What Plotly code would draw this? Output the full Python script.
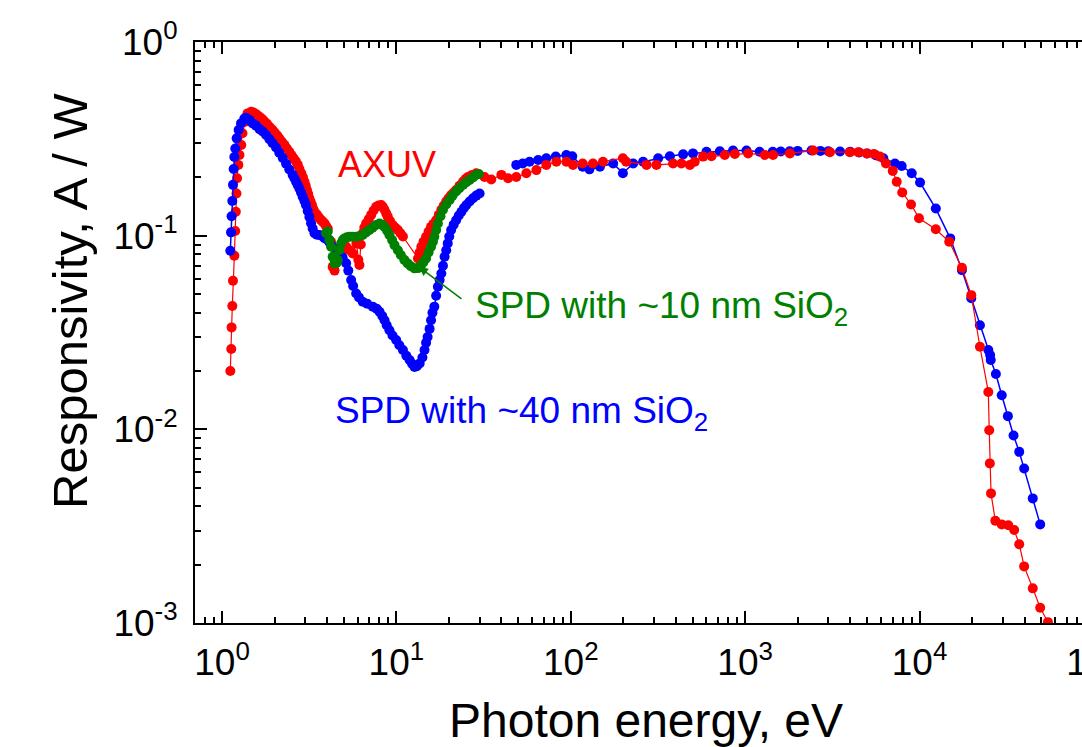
import math
import plotly.graph_objects as go

# ---------------- data ----------------
# AXUV photodiode
axuv_E = [1.116, 1.13, 1.135, 1.146, 1.156, 1.177, 1.19, 1.2, 1.21, 1.22, 1.24, 1.26, 1.29, 1.31, 1.36, 1.40, 1.47,
          1.52, 1.58, 1.64, 1.70, 1.75, 1.81, 1.87, 1.94, 2.0, 2.07, 2.13, 2.20, 2.28, 2.35, 2.43, 2.50, 2.57, 2.65,
          2.72, 2.78, 2.85, 2.91, 2.97, 3.02, 3.07, 3.12, 3.17, 3.22, 3.28, 3.33, 3.39, 3.45, 3.5, 3.56, 3.62, 3.68,
          3.75, 3.81, 3.87, 3.95, 4.04, 4.13, 4.22, 4.31, 4.42, 4.51, 4.71, 4.92, 5.15, 5.38, 5.62, 5.9, 6.05, 6.14,
          6.25, 6.41, 6.55, 6.71, 6.95, 7.17, 7.4, 7.66, 7.9, 8.18, 8.35, 8.55, 8.75, 8.93, 9.2, 9.53, 9.85, 10.2,
          10.55, 10.9, 13.3, 13.6, 13.9, 14.3, 14.8, 15.3, 15.8, 16.3, 16.9, 17.5, 18.1, 18.7, 19.3, 19.9, 20.6,
          21.3, 22.0, 23.0, 24.1, 24.9, 25.7, 27.2, 28.7, 32, 35, 40, 43.7, 48.7, 55.6, 63.5, 72.4, 82.7, 94.4, 103,
          117, 134, 153, 199, 208, 272, 310, 386, 431, 482, 514, 574, 641, 764, 873, 1040, 1297, 1446, 1806, 2455,
          3063, 3985, 4455, 4976, 5480, 5930, 6420, 7020, 7400, 7960, 8940, 9930, 12400, 14800, 17500, 19800, 22200,
          24800, 25100, 25300, 25700, 27200, 29600, 32300, 34900, 37300, 39800, 44600, 49200, 54500, 60000]
axuv_R = [0.020, 0.026, 0.0336, 0.0433, 0.0585, 0.0787, 0.1056, 0.133, 0.165, 0.198, 0.232, 0.261, 0.294, 0.338,
          0.388, 0.428, 0.436, 0.432, 0.422, 0.411, 0.400, 0.39, 0.378, 0.365, 0.353, 0.342, 0.330, 0.318, 0.306,
          0.295, 0.283, 0.271, 0.261, 0.252, 0.242, 0.232, 0.221, 0.21, 0.20, 0.19, 0.181, 0.172, 0.164, 0.156,
          0.150, 0.144, 0.138, 0.133, 0.130, 0.128, 0.125, 0.123, 0.121, 0.119, 0.117, 0.116, 0.112, 0.109, 0.095,
          0.093, 0.069, 0.066, 0.072, 0.078, 0.084, 0.088, 0.084, 0.081, 0.091, 0.075, 0.0705, 0.09, 0.103, 0.11,
          0.116, 0.122, 0.128, 0.135, 0.141, 0.143, 0.144, 0.141, 0.136, 0.130, 0.125, 0.119, 0.1135, 0.110, 0.107,
          0.103, 0.099, 0.0763, 0.082, 0.0877, 0.093, 0.0988, 0.105, 0.111, 0.115, 0.12, 0.128, 0.136, 0.143, 0.15,
          0.156, 0.162, 0.167, 0.172, 0.181, 0.19, 0.196, 0.201, 0.206, 0.21, 0.201, 0.195, 0.206, 0.198, 0.201,
          0.21, 0.218, 0.232, 0.241, 0.241, 0.232, 0.236, 0.236, 0.241, 0.251, 0.241, 0.232, 0.232, 0.236, 0.236,
          0.232, 0.241, 0.256, 0.257, 0.261, 0.264, 0.266, 0.261, 0.261, 0.266, 0.275, 0.27, 0.27, 0.27, 0.266,
          0.264, 0.256, 0.236, 0.216, 0.19, 0.167, 0.145, 0.123, 0.108, 0.093, 0.0683, 0.0493, 0.0267, 0.0156,
          0.0099, 0.00667, 0.00467, 0.00337, 0.00323, 0.0032, 0.00302, 0.00255, 0.00196, 0.00151, 0.0012, 0.00101,
          0.00078]

# SPD with ~40 nm SiO2 (UV/VUV part and X-ray part)
spd40_uv_E = [1.116, 1.126, 1.135, 1.146, 1.156, 1.166, 1.177, 1.192, 1.213, 1.245, 1.285, 1.343, 1.373, 1.435,
              1.50, 1.567, 1.64, 1.71, 1.79, 1.87, 1.95, 2.04, 2.13, 2.23, 2.33, 2.43, 2.54, 2.60, 2.66, 2.72, 2.78,
              2.84, 2.90, 2.97, 3.03, 3.10, 3.17, 3.24, 3.31, 3.39, 3.50, 3.62, 3.78, 3.87, 4.04, 4.15, 4.31, 4.5,
              4.71, 4.92, 5.15, 5.3, 5.50, 5.65, 5.88, 6.1, 6.41, 6.8, 7.32, 7.7, 8.0, 8.3, 8.55, 8.8, 9.12, 9.5,
              9.97, 10.4, 10.9, 11.4, 11.9, 12.3, 12.7, 13.1, 13.6, 14.1, 14.5, 14.8, 15.1, 15.5, 15.8, 16.1, 16.5,
              16.9, 17.3, 17.7, 18.1, 18.5, 18.9, 19.3, 19.7, 20.1, 20.6, 21.3, 22.0, 22.8, 23.6, 24.4, 25.2, 26.3,
              27.5, 28.7, 30.0]
spd40_uv_R = [0.0836, 0.104, 0.126, 0.151, 0.183, 0.221, 0.255, 0.282, 0.318, 0.351, 0.380, 0.403, 0.406, 0.396,
              0.380, 0.37, 0.355, 0.345, 0.331, 0.315, 0.300, 0.285, 0.268, 0.252, 0.235, 0.220, 0.206, 0.198, 0.190,
              0.182, 0.175, 0.167, 0.159, 0.151, 0.144, 0.134, 0.125, 0.116, 0.109, 0.103, 0.101, 0.1007, 0.099,
              0.097, 0.095, 0.092, 0.0877, 0.084, 0.081, 0.077, 0.072, 0.066, 0.059, 0.055, 0.0503, 0.048, 0.0456,
              0.0445, 0.043, 0.042, 0.0405, 0.0385, 0.0366, 0.0345, 0.0325, 0.0305, 0.0289, 0.0272, 0.0257, 0.024,
              0.0228, 0.0218, 0.021, 0.0212, 0.0219, 0.0235, 0.0257, 0.028, 0.030, 0.033, 0.0366, 0.040, 0.043, 0.049,
              0.0545, 0.059, 0.0638, 0.070, 0.0778, 0.084, 0.0912, 0.099, 0.107, 0.114, 0.120, 0.127, 0.133, 0.139,
              0.144, 0.150, 0.156, 0.161, 0.165]
spd40_x_E = [48.7, 53, 58, 65, 72.4, 82, 94.3, 102, 117, 128, 147, 175, 199, 228, 260, 317, 370, 441, 502, 600,
             716, 852, 1018, 1210, 1440, 1600, 1800, 2000, 2400, 2700, 3000, 3500, 4000, 4500, 5000, 5600, 6200,
             7230, 7900, 9020, 10070, 12400, 15000, 17500, 19800, 22200, 24800, 25400, 25600, 27400, 29600, 32100,
             34600, 37300, 39800, 44600, 49200]
spd40_x_R = [0.232, 0.236, 0.241, 0.246, 0.251, 0.256, 0.261, 0.257, 0.227, 0.220, 0.227, 0.236, 0.210, 0.236,
             0.241, 0.251, 0.257, 0.263, 0.266, 0.271, 0.273, 0.275, 0.275, 0.271, 0.271, 0.272, 0.273, 0.274,
             0.275, 0.274, 0.273, 0.272, 0.271, 0.269, 0.266, 0.260, 0.251, 0.236, 0.229, 0.210, 0.188, 0.138,
             0.0968, 0.0664, 0.0475, 0.0345, 0.0257, 0.0242, 0.0228, 0.0193, 0.0150, 0.0117, 0.0093, 0.00765,
             0.00628, 0.0044, 0.00323]

# SPD with ~10 nm SiO2
spd10_E = [3.95, 4.04, 4.13, 4.22, 4.31, 4.42, 4.52, 4.61, 4.71, 4.82, 4.93, 5.04, 5.2, 5.38, 5.6, 5.88, 6.15, 6.41,
           6.7, 7.0, 7.3, 7.66, 8.0, 8.3, 8.55, 8.85, 9.12, 9.45, 9.75, 10.2, 10.6, 11.1, 11.6, 12.1, 12.7, 13.3,
           13.9, 14.3, 14.8, 15.3, 15.8, 16.2, 16.5, 16.9, 17.3, 17.9, 18.5, 19.3, 20.2, 21.0, 22.0, 23.0, 24.1,
           25.2, 26.3, 27.5, 28.7, 29.7]
spd10_R = [0.103, 0.105, 0.095, 0.0877, 0.0778, 0.0719, 0.072, 0.0748, 0.0843, 0.0912, 0.095, 0.0968, 0.098, 0.0988,
           0.0988, 0.0988, 0.0995, 0.1007, 0.104, 0.107, 0.110, 0.1135, 0.1156, 0.114, 0.111, 0.106, 0.1007, 0.095,
           0.0894, 0.084, 0.0794, 0.075, 0.0719, 0.0695, 0.0678, 0.068, 0.0705, 0.073, 0.0763, 0.082, 0.0877, 0.093,
           0.0988, 0.107, 0.1156, 0.126, 0.136, 0.145, 0.153, 0.161, 0.169, 0.176, 0.183, 0.189, 0.194, 0.200,
           0.206, 0.208]

x_tick_vals = [1, 10, 100, 1000, 10000, 100000]
x_tick_text = ["10<sup>0</sup>", "10<sup>1</sup>", "10<sup>2</sup>", "10<sup>3</sup>", "10<sup>4</sup>", "10<sup>5</sup>"]
y_tick_vals = [0.001, 0.01, 0.1, 1]
y_tick_text = ["10<sup>-3</sup>", "10<sup>-2</sup>", "10<sup>-1</sup>", "10<sup>0</sup>"]

# ---------------- figure ----------------
W, H = 1110, 747
ML, MR, MT, MB = 195, 16, 42, 124
PW, PH = W - ML - MR, H - MT - MB
FONT = "Liberation Sans, Arial, sans-serif"

RED, BLUE, GREEN = "#FF0000", "#0000FF", "#008000"


def px_x(px):
    return (px - ML) / PW


def px_y(py):
    return (H - MB - py) / PH


fig = go.Figure()


def add(xs, ys, color, lw=1.5):
    fig.add_trace(go.Scatter(x=xs, y=ys, mode="lines+markers",
                             line=dict(color=color, width=lw),
                             marker=dict(color=color, size=10, line=dict(width=0)),
                             showlegend=False, hoverinfo="x+y"))


add(spd40_x_E, spd40_x_R, BLUE)
add(axuv_E, axuv_R, RED, 1.2)
add(spd40_uv_E, spd40_uv_R, BLUE)
add(spd10_E, spd10_R, GREEN)

minor_x = [m * 10 ** k for k in range(-1, 5) for m in range(2, 10) if 0.7 <= m * 10 ** k <= 1e5]
minor_y = [m * 10 ** k for k in range(-3, 0) for m in range(2, 10)]

axis_common = dict(showgrid=False, zeroline=False, showline=True, linecolor="black", linewidth=2,
                   ticks="inside", ticklen=12, tickwidth=2, tickcolor="black", mirror="ticks",
                   automargin=False,
                   tickfont=dict(family=FONT, size=37, color="black"))

fig.update_xaxes(type="log", range=[math.log10(0.7), 5.0005], tickmode="array",
                 tickvals=x_tick_vals, ticktext=x_tick_text, ticklabelstandoff=6,
                 ticklabeloverflow="allow",
                 minor=dict(tickmode="array", tickvals=minor_x, ticks="inside", ticklen=6,
                            tickwidth=1.5, tickcolor="black", showgrid=False),
                 **axis_common)
fig.update_yaxes(type="log", range=[-3, 0], tickmode="array",
                 tickvals=y_tick_vals, ticktext=y_tick_text, ticklabelstandoff=8,
                 minor=dict(tickmode="array", tickvals=minor_y, ticks="inside", ticklen=6,
                            tickwidth=1.5, tickcolor="black", showgrid=False),
                 **axis_common)

annotations = [
    dict(text="Photon energy, eV", xref="paper", yref="paper", x=px_x(646), y=px_y(720),
         xanchor="center", yanchor="middle", showarrow=False,
         font=dict(family=FONT, size=48, color="black")),
    dict(text="Responsivity, A / W", xref="paper", yref="paper", x=px_x(70), y=px_y(301),
         xanchor="center", yanchor="middle", showarrow=False, textangle=-90,
         font=dict(family=FONT, size=49, color="black")),
    dict(text="AXUV", xref="paper", yref="paper", x=px_x(387), y=px_y(164),
         xanchor="center", yanchor="middle", showarrow=False,
         font=dict(family=FONT, size=36, color=RED)),
    dict(text="SPD with ~10 nm SiO<sub>2</sub>", xref="paper", yref="paper", x=px_x(473), y=px_y(308),
         xanchor="left", yanchor="middle", showarrow=False,
         font=dict(family=FONT, size=37, color=GREEN)),
    dict(text="SPD with ~40 nm SiO<sub>2</sub>", xref="paper", yref="paper", x=px_x(333), y=px_y(413),
         xanchor="left", yanchor="middle", showarrow=False,
         font=dict(family=FONT, size=37, color=BLUE)),
    dict(text="", xref="paper", yref="paper", x=px_x(419), y=px_y(267),
         ax=44, ay=33, showarrow=True, arrowhead=2, arrowsize=1.2, arrowwidth=1.5, arrowcolor=GREEN),
]

fig.update_layout(width=W, height=H, autosize=False,
                  margin=dict(l=ML, r=MR, t=MT, b=MB, pad=0, autoexpand=False),
                  paper_bgcolor="white", plot_bgcolor="white",
                  annotations=annotations, showlegend=False)

fig.write_html("out.html",
               post_script="document.body.style.margin='0';document.body.style.overflow='hidden';"
                           "document.documentElement.style.overflow='hidden';")
